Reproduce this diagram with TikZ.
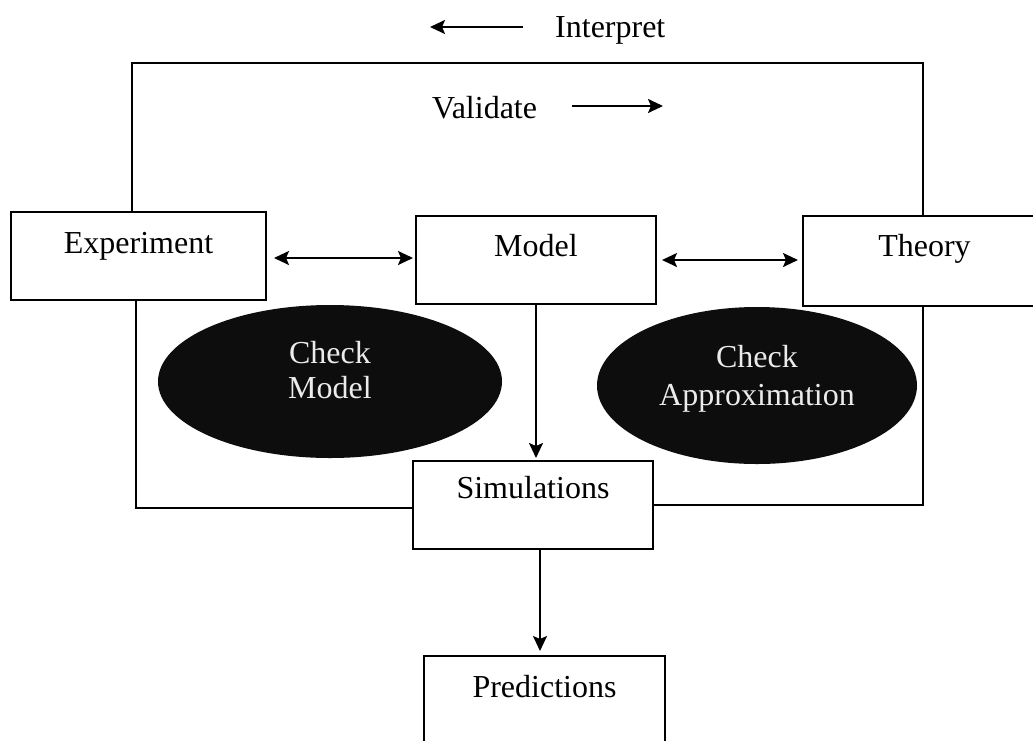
\documentclass[tikz,border=0pt]{standalone}
\usepackage{fontspec}
\setmainfont{Liberation Serif}
\usetikzlibrary{shapes.geometric,arrows.meta}
\begin{document}
\begin{tikzpicture}[x=1pt,y=-1pt,
  every node/.style={font=\fontsize{32}{35}\selectfont},
  box/.style={draw, line width=2pt, rectangle, inner sep=0pt, anchor=north west},
  oval/.style={ellipse, fill=black!95, text=black!8, inner sep=0pt},
  ln/.style={line width=2pt},
  arr/.style={ln, -{Stealth[length=15pt,width=14pt,inset=3pt]}},
  dbl/.style={ln, {Stealth[length=15pt,width=14pt,inset=3pt]}-{Stealth[length=15pt,width=14pt,inset=3pt]}}]
\useasboundingbox (0,0) rectangle (1033,740);
\clip (0,0) rectangle (1033,740);
\fill[white] (0,0) rectangle (1033,740);

% boxes
\node[box, minimum width=255pt, text height=41pt, text depth=47pt] (exp) at (10,211) {Experiment};
\node[box, minimum width=240pt, text height=40pt, text depth=48pt] (mod) at (415,215) {Model};
\node[box, minimum width=243pt, text height=40pt, text depth=50pt] (th) at (802,215) {Theory};
\node[box, minimum width=240pt, text height=37pt, text depth=51pt] (sim) at (412,460) {Simulations};
\node[box, minimum width=241pt, text height=41pt, text depth=50pt] (pred) at (423,655) {Predictions};

% ellipses
\node[oval, minimum width=344pt, minimum height=153pt] (cm) at (330,381.5)
  {\raisebox{0pt}[0pt][37pt]{\begin{tabular}[t]{@{}c@{}}Check\\Model\end{tabular}}};
\node[oval, minimum width=320pt, minimum height=157pt, font=\fontsize{32}{38}\selectfont] (ca) at (757,385.5)
  {\raisebox{0pt}[0pt][37pt]{\begin{tabular}[t]{@{}c@{}}Check\\Approximation\end{tabular}}};

% top labels
\node[anchor=base west, inner sep=0pt] (int) at (555,37) {Interpret};
\node[anchor=base west, inner sep=0pt] (val) at (432,118) {Validate};
\coordinate (ia) at (523,27);
\coordinate (ib) at (430,27);
\coordinate (va) at (572,106);
\coordinate (vb) at (663,106);
\draw[arr] (ia) -- (ib);
\draw[arr] (va) -- (vb);

% frame
\coordinate (tl) at (132,63);
\coordinate (tr) at (923,63);
\coordinate (bl) at (136,508);
\coordinate (br) at (923,505);
\draw[ln] (exp.north -| tl) -- (tl) -- (tr) -- (th.north -| tr);
\draw[ln] (exp.south -| bl) -- (bl) -- (sim.west |- bl);
\draw[ln] (th.south -| br) -- (br) -- (sim.east |- br);

% connectors
\draw[dbl, shorten <=7pt, shorten >=2pt] ([yshift=-2pt]exp.east) -- ([yshift=-2pt]exp.east -| mod.west);
\draw[dbl, shorten <=5pt, shorten >=4pt] (mod.east) -- (mod.east -| th.west);
\draw[arr, shorten >=2pt] (mod.south) -- (mod.south |- sim.north);
\draw[arr, shorten >=4pt] ([xshift=7pt]sim.south) -- ([xshift=7pt]sim.south |- pred.north);
\end{tikzpicture}
\end{document}
